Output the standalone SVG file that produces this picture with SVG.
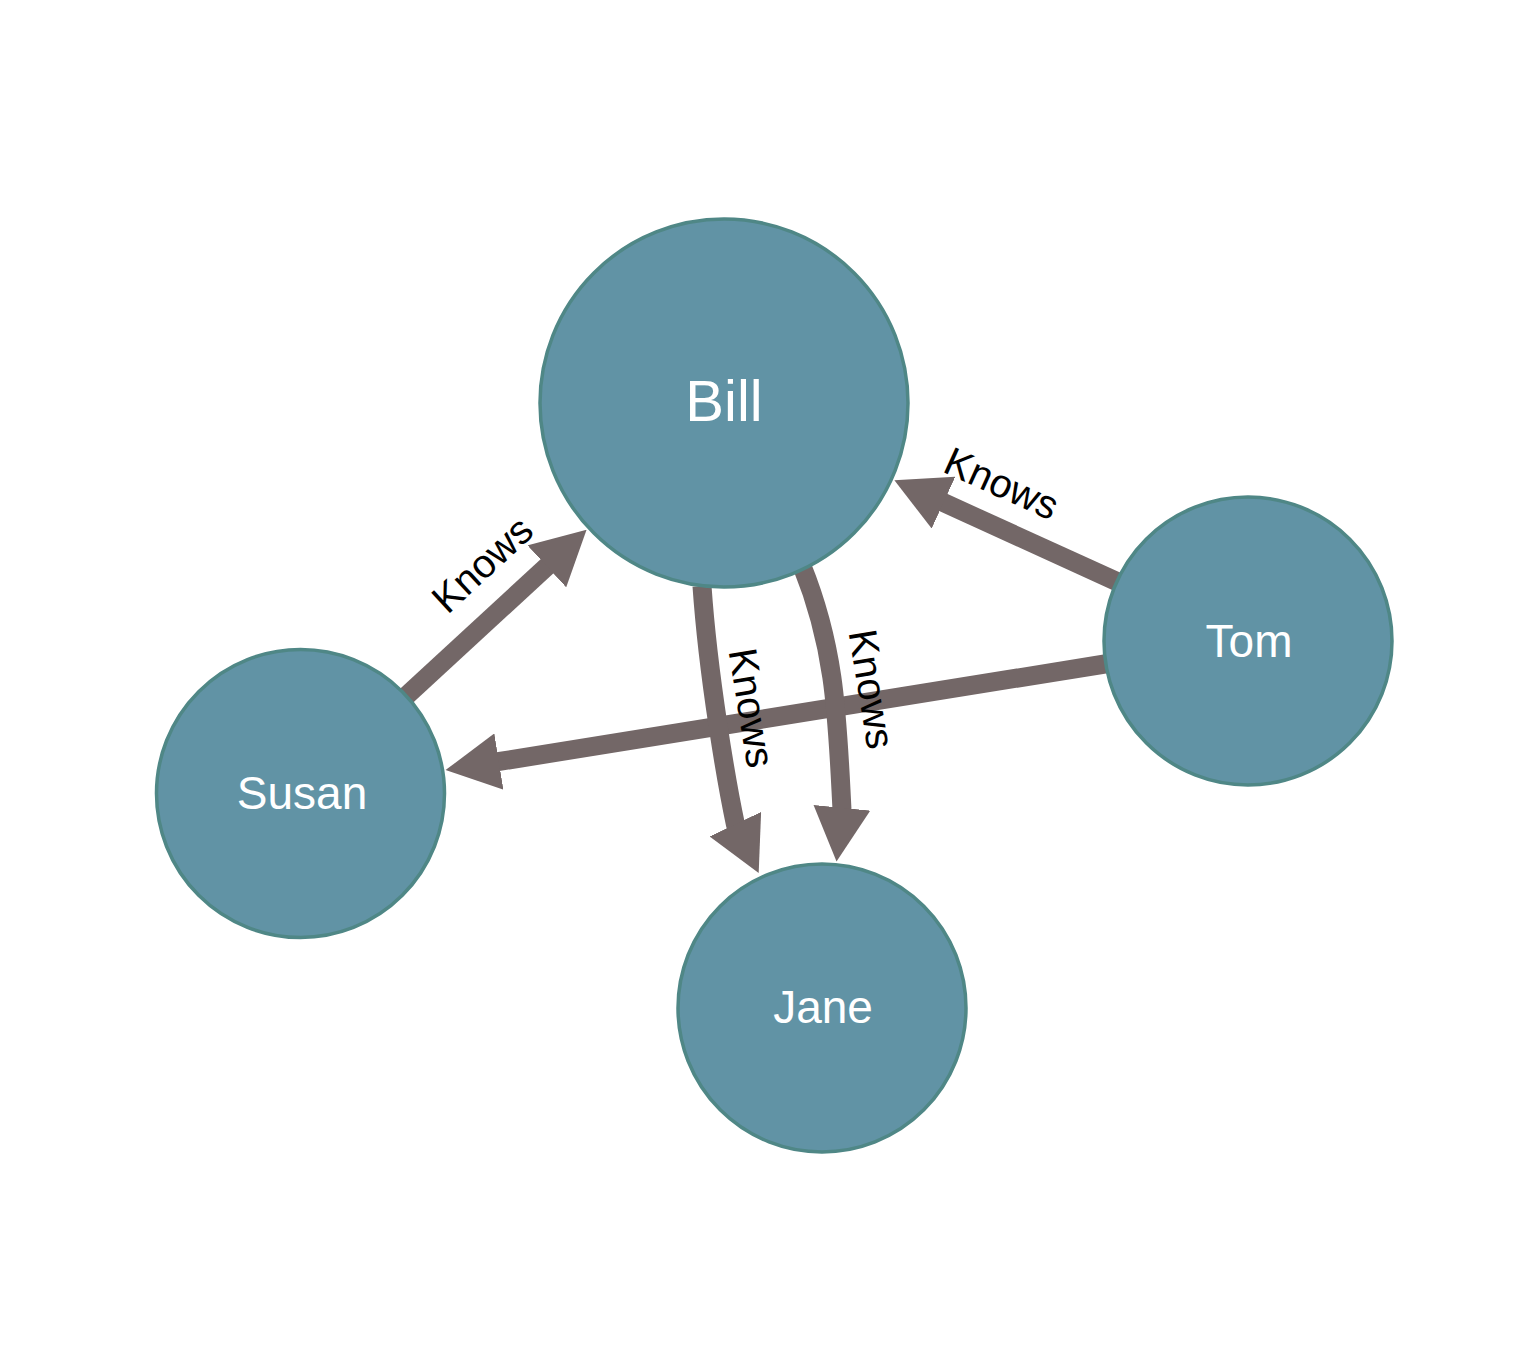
<svg xmlns="http://www.w3.org/2000/svg" width="1516" height="1350" viewBox="0 0 1516 1350">
  <style>
    .node { fill: #6193a5; stroke: #4f8786; stroke-width: 3.5; }
    .nlabel { fill: #ffffff; font-family: "Liberation Sans", Arial, sans-serif; text-anchor: middle; }
    .edge { fill: none; stroke: #736767; stroke-width: 19; marker-end: url(#arrow); }
    .elabel { fill: #000000; font-family: "Liberation Sans", Arial, sans-serif; font-size: 40px; text-anchor: middle; }
  </style>
  <defs>
    <marker id="arrow" markerUnits="userSpaceOnUse" viewBox="0 0 54 57" markerWidth="54" markerHeight="57" refX="1" refY="28.5" orient="auto">
      <path d="M0,0 L54,28.5 L0,57 Z" fill="#736767"/>
    </marker>
  </defs>
  <rect width="1516" height="1350" fill="#ffffff"/>
  <g id="connectors">
    <path id="e-susan-bill" class="edge" d="M403,699 L547.6,565.7"/>
    <path id="e-tom-bill" class="edge" d="M1120,583 L942.6,502.2"/>
    <path id="e-tom-susan" class="edge" d="M1108,663.5 L497.9,761.7"/>
    <path id="e-bill-jane-1" class="edge" d="M702,586 C708.3,677.8 727.1,785.1 735.4,824.2 l0.43,0.9"/>
    <path id="e-bill-jane-2" class="edge" d="M802,566 C835.8,649.4 837.2,717.9 841.9,807.8 l-0.1,1"/>
    <text class="elabel" transform="translate(491.5,574.5) rotate(-42.7)">Knows</text>
    <text class="elabel" transform="translate(996,496) rotate(24.4)">Knows</text>
    <text class="elabel" transform="translate(738,710) rotate(80.8)">Knows</text>
    <text class="elabel" transform="translate(858.2,691.2) rotate(80.8)">Knows</text>
  </g>
  <g id="node-bill">
    <circle class="node" cx="724" cy="403" r="184"/>
    <text class="nlabel" x="724" y="421" font-size="58">Bill</text>
  </g>
  <g id="node-tom">
    <circle class="node" cx="1248" cy="641" r="144"/>
    <text class="nlabel" x="1249" y="657" font-size="46">Tom</text>
  </g>
  <g id="node-susan">
    <circle class="node" cx="300.5" cy="793.5" r="144"/>
    <text class="nlabel" x="302" y="809" font-size="46">Susan</text>
  </g>
  <g id="node-jane">
    <circle class="node" cx="822" cy="1008" r="144"/>
    <text class="nlabel" x="823" y="1023" font-size="46">Jane</text>
  </g>
</svg>
